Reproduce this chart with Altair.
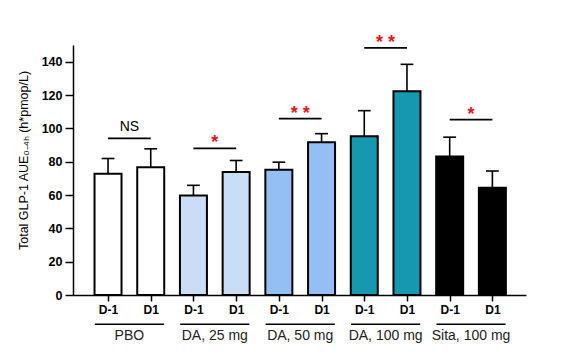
import altair as alt
import pandas as pd

groups = ["PBO", "DA, 25 mg", "DA, 50 mg", "DA, 100 mg", "Sita, 100 mg"]
days = ["D-1", "D1"] * 5
means = [72.8, 76.6, 59.7, 73.8, 75.2, 91.7, 95.3, 122.3, 83.1, 64.4]
sems = [9.1, 11.1, 6.1, 6.9, 4.5, 5.1, 15.3, 16.1, 11.6, 10.0]
colors = ["#ffffff", "#c9ddf6", "#94bff5", "#1499b1", "#000000"]
sig_labels = ["NS", "*", "* *", "* *", "*"]
sig_line = [94, 88, 105.8, 148.3, 105.2]
y_ticks = [0, 20, 40, 60, 80, 100, 120, 140]

FONT = "Liberation Sans"

df = pd.DataFrame({
    "pos": list(range(1, 11)),
    "group": [g for g in groups for _ in range(2)],
    "day": days,
    "mean": means,
    "sem": sems,
})
df["top"] = df["mean"] + df["sem"]
df["cap_l"] = df["pos"] - 0.15
df["cap_r"] = df["pos"] + 0.15

sig = pd.DataFrame({
    "group": groups,
    "label": sig_labels,
    "y": sig_line,
    "x1": [2 * i + 1 for i in range(5)],
    "x2": [2 * i + 2 for i in range(5)],
})
sig["xm"] = (sig["x1"] + sig["x2"]) / 2

grp = pd.DataFrame({
    "group": groups,
    "x1": [2 * i + 1 - 0.31 for i in range(5)],
    "x2": [2 * i + 2 + 0.31 for i in range(5)],
    "yl": [-17.6] * 5,
    "yt": [-27] * 5,
})
grp["xm"] = (grp["x1"] + grp["x2"]) / 2

label_expr = "[" + ",".join(f"'{d}'" for d in days) + "][datum.value - 1]"

xscale = alt.Scale(domain=[0.297, 10.67], nice=False, zero=False)
yscale = alt.Scale(domain=[0, 150], nice=False)

xaxis = alt.Axis(values=list(range(1, 11)), labelExpr=label_expr,
                 title=None, grid=False, labelFontSize=12,
                 tickSize=6, labelPadding=3, labelOverlap=False,
                 labelFlush=False)
yaxis = alt.Axis(values=y_ticks, grid=False,
                 labelFontSize=12.5, labelOverlap=False,
                 tickSize=8, labelPadding=3, labelFlush=False,
                 title="Total GLP-1 AUE₀₋₄ₕ (h*pmop/L)",
                 titleFontSize=12.5, titleFontWeight="normal",
                 titleX=-50, titleY=115, titleAngle=270,
                 titleAlign="center", titleBaseline="middle")


def X(field):
    return alt.X(field, scale=xscale, axis=xaxis)


def Y(field):
    return alt.Y(field, scale=yscale, axis=yaxis)


base = alt.Chart(df)

bars = base.mark_bar(size=27, stroke="black", strokeWidth=2).encode(
    x=X("pos:Q"), y=Y("mean:Q"),
    color=alt.Color("group:N", scale=alt.Scale(domain=groups, range=colors), legend=None),
)

err = base.mark_rule(color="black", strokeWidth=1.6).encode(
    x=X("pos:Q"), y=Y("mean:Q"), y2="top:Q")
caps = base.mark_rule(color="black", strokeWidth=1.6).encode(
    x=X("cap_l:Q"), x2="cap_r:Q", y=Y("top:Q"))

sig_rules = alt.Chart(sig).mark_rule(color="black", strokeWidth=1.6).encode(
    x=X("x1:Q"), x2="x2:Q", y=Y("y:Q"))
sig_ns = alt.Chart(sig).transform_filter("datum.label == 'NS'").mark_text(
    font=FONT, fontSize=14, color="black", baseline="alphabetic", dy=-7.5).encode(
    x=X("xm:Q"), y=Y("y:Q"), text="label:N")
sig_star = alt.Chart(sig).transform_filter("datum.label != 'NS'").mark_text(
    font=FONT, fontSize=18, fontWeight="bold", color="#e8141c", baseline="alphabetic").encode(
    x=X("xm:Q"), y=Y("y:Q"), text="label:N")

grp_rules = alt.Chart(grp).mark_rule(color="black", strokeWidth=1.5, clip=False).encode(
    x=X("x1:Q"), x2="x2:Q", y=Y("yl:Q"))
grp_text = alt.Chart(grp).mark_text(
    font=FONT, fontSize=14, color="#222222", baseline="alphabetic", clip=False).encode(
    x=X("xm:Q"), y=Y("yt:Q"), text="group:N")

chart = alt.layer(bars, err, caps, sig_rules, sig_ns, sig_star, grp_rules, grp_text).properties(
    width=453, height=250,
    autosize=alt.AutoSizeParams(type="none"),
    padding={"left": 73, "top": 45, "right": 47, "bottom": 61},
    background="white",
).configure_view(stroke=None).configure_axis(
    domainColor="black", domainWidth=1.5, tickColor="black", tickWidth=1.5,
    labelFont=FONT, titleFont=FONT, labelFontWeight="bold",
    labelColor="black", titleColor="black",
)

chart.save("out.html", embed_options={"renderer": "svg", "actions": False})
